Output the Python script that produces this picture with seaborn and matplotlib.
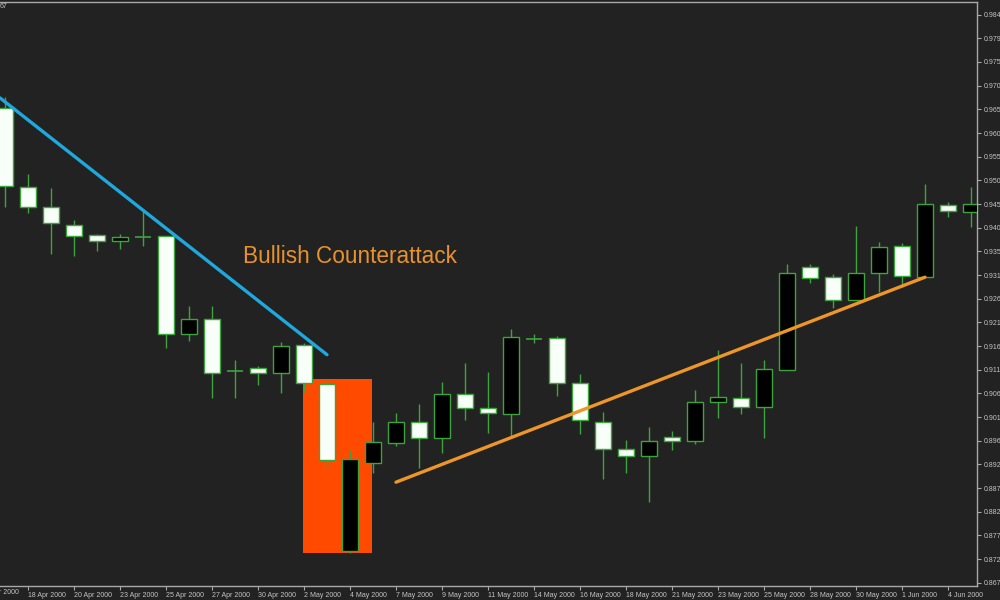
import matplotlib
matplotlib.use("Agg")
import matplotlib.pyplot as plt
import seaborn as sns
import pandas as pd
from matplotlib.patches import Rectangle

# ---------------- data ----------------
opens = [0.9655, 0.9492, 0.9451, 0.9414, 0.9393, 0.9381, 0.9389, 0.9391, 0.9189, 0.9220,
         0.9112, 0.9119, 0.9108, 0.9166, 0.9086, 0.8741, 0.8923, 0.8964, 0.9007, 0.8974,
         0.9065, 0.9036, 0.9024, 0.9178, 0.9181, 0.9088, 0.9007, 0.8952, 0.8937, 0.8976,
         0.8968, 0.9049, 0.9057, 0.9038, 0.9115, 0.9327, 0.9306, 0.9259, 0.9315, 0.9370,
         0.9306, 0.9455, 0.9441]
highs = [0.9678, 0.9519, 0.9490, 0.9424, 0.9395, 0.9395, 0.9445, 0.9391, 0.9247, 0.9247,
         0.9135, 0.9123, 0.9172, 0.9170, 0.9094, 0.8949, 0.9007, 0.9026, 0.9044, 0.9090,
         0.9129, 0.9110, 0.9199, 0.9189, 0.9185, 0.9106, 0.9028, 0.8970, 0.8997, 0.8989,
         0.9073, 0.9156, 0.9129, 0.9135, 0.9333, 0.9333, 0.9313, 0.9412, 0.9379, 0.9377,
         0.9498, 0.9461, 0.9492]
lows = [0.9451, 0.9438, 0.9354, 0.9350, 0.9360, 0.9364, 0.9370, 0.9160, 0.9174, 0.9057,
        0.9057, 0.9084, 0.9067, 0.9069, 0.8912, 0.8737, 0.8902, 0.8958, 0.8912, 0.8943,
        0.9011, 0.8985, 0.8976, 0.9170, 0.9061, 0.8982, 0.8890, 0.8902, 0.8842, 0.8949,
        0.8962, 0.9016, 0.9024, 0.8974, 0.9115, 0.9294, 0.9242, 0.9259, 0.9275, 0.9286,
        0.9306, 0.9430, 0.9410]
closes = [0.9494, 0.9451, 0.9418, 0.9391, 0.9381, 0.9389, 0.9389, 0.9189, 0.9220, 0.9108,
          0.9112, 0.9108, 0.9164, 0.9088, 0.8929, 0.8931, 0.8966, 0.9007, 0.8974, 0.9065,
          0.9036, 0.9026, 0.9183, 0.9178, 0.9088, 0.9011, 0.8952, 0.8937, 0.8968, 0.8968,
          0.9049, 0.9059, 0.9038, 0.9117, 0.9315, 0.9304, 0.9259, 0.9315, 0.9368, 0.9309,
          0.9457, 0.9443, 0.9457]

tick_idx = [1, 3, 5, 7, 9, 11, 13, 15, 17, 19, 21, 23, 25, 27, 29, 31, 33, 35, 37, 39, 41]
tick_labels = ["18 Apr 2000", "20 Apr 2000", "23 Apr 2000", "25 Apr 2000", "27 Apr 2000",
               "30 Apr 2000", "2 May 2000", "4 May 2000", "7 May 2000", "9 May 2000",
               "11 May 2000", "14 May 2000", "16 May 2000", "18 May 2000", "21 May 2000",
               "23 May 2000", "25 May 2000", "28 May 2000", "30 May 2000", "1 Jun 2000",
               "4 Jun 2000"]
partial_label = "16 Apr 2000"
price_labels = ["0.8675", "0.8724", "0.8773", "0.8822", "0.8871", "0.8920", "0.8968",
                "0.9017", "0.9066", "0.9115", "0.9164", "0.9213", "0.9261", "0.9310",
                "0.9359", "0.9408", "0.9457", "0.9506", "0.9554", "0.9603", "0.9652",
                "0.9701", "0.9750", "0.9799", "0.9847"]

down_x = [-0.22, 14.0]
down_y = [0.9676, 0.9146]
up_x = [17.0, 40.0]
up_y = [0.8883, 0.9306]
pattern_x = [12.96, 15.96]
pattern_y = [0.8737, 0.9096]
annotation = "Bullish Counterattack"
annotation_pos = (10.35, 0.9348)

# ---------------- style ----------------
BG = "#222222"
GREEN = "#3da33d"
TXT = "#c4c4c4"
sns.set_style("dark", {"axes.facecolor": BG, "figure.facecolor": BG})
plt.rcParams["font.family"] = ["DejaVu Sans"]
FAM = ["Liberation Sans", "DejaVu Sans"]

fig = plt.figure(figsize=(10, 6), dpi=100)
fig.patch.set_facecolor(BG)
ax = fig.add_axes([0.0, 14 / 600, 977 / 1000, 584 / 600])
ax.set_facecolor(BG)

x = list(range(len(opens)))
df = pd.DataFrame({"x": x, "open": opens, "high": highs, "low": lows, "close": closes})

# pattern highlight box
ax.add_patch(Rectangle((pattern_x[0], pattern_y[0]), pattern_x[1] - pattern_x[0],
                       pattern_y[1] - pattern_y[0], facecolor="#ff4a00",
                       edgecolor="none", zorder=1))

# wicks
ax.vlines(df["x"], df["low"], df["high"], color=GREEN, lw=1.0, zorder=3)

# bodies
W = 0.73
for _, r in df.iterrows():
    o, c = r["open"], r["close"]
    if abs(c - o) < 1e-9:
        ax.hlines(o, r["x"] - W / 2, r["x"] + W / 2, color=GREEN, lw=1.2, zorder=4)
    else:
        fill = "#000000" if c > o else "#f8fff8"
        ax.bar(r["x"], abs(c - o), bottom=min(o, c), width=W, color=fill,
               edgecolor=GREEN, linewidth=1.0, zorder=4)

# trend lines
sns.lineplot(x=down_x, y=down_y, ax=ax, color="#1fa8dd", lw=2.4, zorder=5)
sns.lineplot(x=up_x, y=up_y, ax=ax, color="#ee9628", lw=2.4, zorder=5)

ax.text(annotation_pos[0], annotation_pos[1], annotation, color="#e8922c",
        fontsize=16.3, family=FAM, ha="left", va="center", zorder=6)

# axes limits
ax.set_xlim(-5 / 23, 972 / 23)
ax.set_ylim(0.86688, 0.98738)

# ticks
ax.set_xticks(tick_idx)
ax.set_xticklabels(tick_labels, ha="left", fontsize=5, family=FAM, color=TXT)
ax.yaxis.tick_right()
ax.set_yticks([float(v) for v in price_labels])
ax.set_yticklabels(price_labels, fontsize=5, family=FAM, color=TXT)
ax.tick_params(axis="x", length=3, width=0.8, color="#a8a8a8", pad=1.0, bottom=True)
ax.tick_params(axis="y", length=3, width=0.8, color="#a8a8a8", pad=1.5, right=True,
               left=False)
ax.grid(False)
ax.set_xlabel("")
ax.set_ylabel("")

for side in ["right", "bottom", "top"]:
    ax.spines[side].set_visible(True)
    ax.spines[side].set_color("#a8a8a8")
    ax.spines[side].set_linewidth(1.0)
ax.spines["left"].set_visible(False)

# partially visible date at the left edge and corner text
fig.text(-19 / 1000, 1 - 592 / 600, partial_label, fontsize=5, color=TXT,
         family=FAM, ha="left", va="center")
fig.text(0.0, 1 - 7 / 600, "67", fontsize=5, color=TXT, family=FAM,
         ha="left", va="center")

fig.savefig("out.png", dpi=100, facecolor=BG)
